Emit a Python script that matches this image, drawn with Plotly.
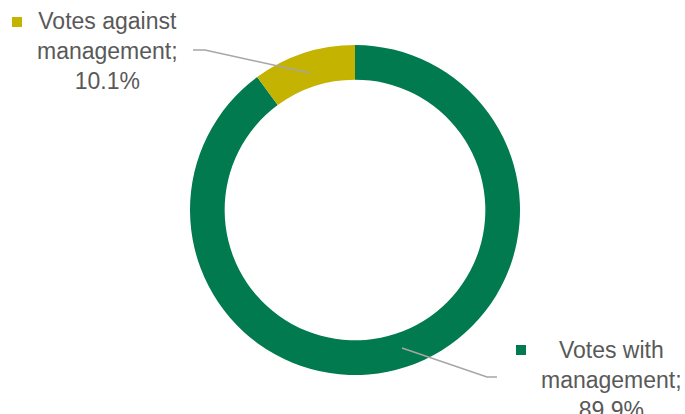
import plotly.graph_objects as go

labels = ["Votes with management", "Votes against management"]
values = [89.9, 10.1]
colors = ["#007A4E", "#C4B300"]
label_texts = ["Votes with<br>management;<br>89.9%", "Votes against<br>management;<br>10.1%"]

W, H = 685, 414

def px(x):
    return x / W

def py(y):
    return 1 - y / H

fig = go.Figure()
fig.add_trace(go.Pie(
    labels=labels, values=values, hole=0.79, sort=False, direction="clockwise",
    rotation=0, marker=dict(colors=colors, line=dict(width=0)),
    textinfo="none", hoverinfo="label+percent", showlegend=False,
    domain=dict(x=[px(190), px(520)], y=[py(375), py(45)]),
))

font = dict(family="Liberation Sans, Arial, sans-serif", size=23, color="#595959")
annotations = [
    dict(x=px(611), y=py(380), text=label_texts[0]),
    dict(x=px(107), y=py(51), text=label_texts[1]),
]
for a in annotations:
    a.update(xref="paper", yref="paper", xanchor="center", yanchor="middle",
             showarrow=False, align="center", font=font)

shapes = [
    # leader lines
    dict(type="path", path=f"M {px(193)} {py(50)} L {px(205)} {py(50)} L {px(310)} {py(73)}",
         xref="paper", yref="paper", line=dict(color="#A6A6A6", width=1.5)),
    dict(type="path", path=f"M {px(402)} {py(348)} L {px(487)} {py(377)} L {px(497)} {py(377)}",
         xref="paper", yref="paper", line=dict(color="#A6A6A6", width=1.5)),
    # legend keys
    dict(type="rect", x0=px(12), x1=px(22), y0=py(27), y1=py(17), xref="paper", yref="paper",
         fillcolor=colors[1], line=dict(width=0)),
    dict(type="rect", x0=px(516), x1=px(526), y0=py(355), y1=py(345), xref="paper", yref="paper",
         fillcolor=colors[0], line=dict(width=0)),
]

fig.update_layout(
    width=W, height=H, margin=dict(l=0, r=0, t=0, b=0),
    paper_bgcolor="white", plot_bgcolor="white",
    annotations=annotations, shapes=shapes,
)
fig.write_html("out.html", config=dict(displayModeBar=False),
               post_script="document.body.style.margin='0';document.body.style.overflow='hidden';")
